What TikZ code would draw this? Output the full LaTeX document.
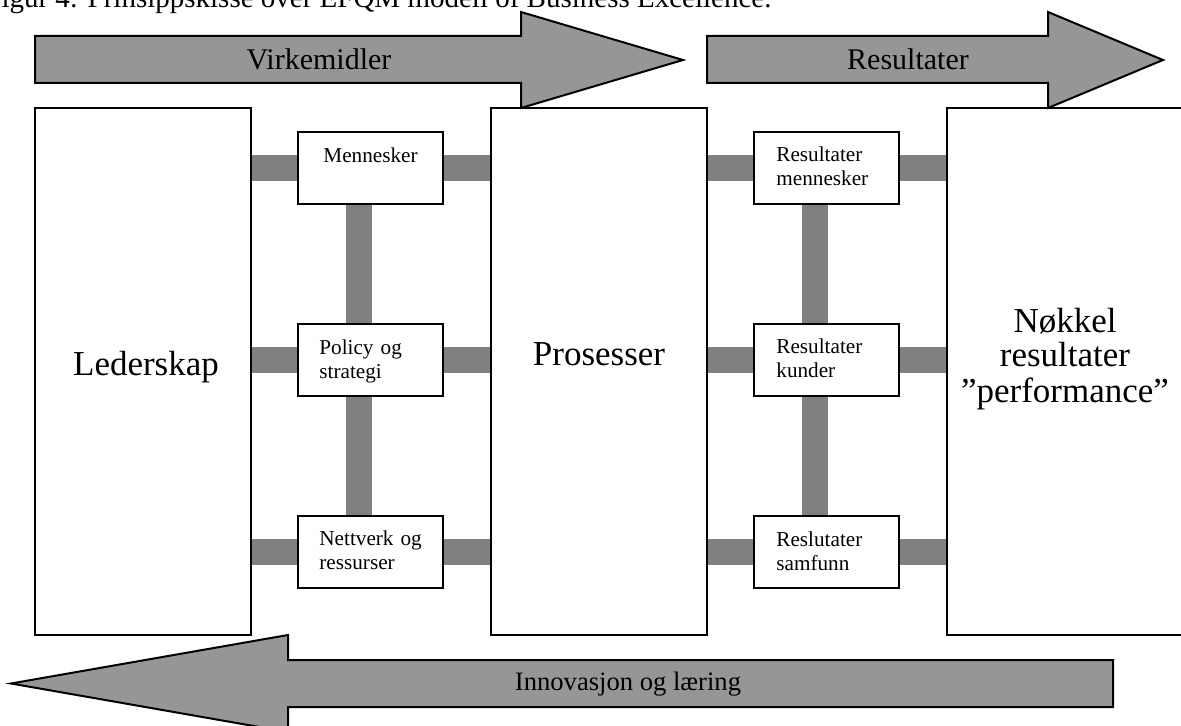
\documentclass[tikz,border=0pt]{standalone}
\usepackage{fontspec}
\setmainfont{Liberation Serif}
\definecolor{arrowgray}{RGB}{150,150,150}
\definecolor{bargray}{RGB}{128,128,128}
\begin{document}
\begin{tikzpicture}[x=0.5pt,y=-0.5pt,
  bigbox/.style={draw, line width=1pt, fill=white, inner sep=0pt, outer sep=0pt,
    minimum width=108pt, minimum height=263.5pt},
  smallbox/.style={draw, line width=1pt, fill=white, inner sep=0pt, outer sep=0pt,
    minimum width=72.5pt, minimum height=36pt},
  bar/.style={draw=bargray, line width=13pt},
  flow/.style={draw, line width=1pt, fill=arrowgray, line join=miter},
  flowtext/.style={inner sep=0pt, anchor=base, font=\fontsize{15}{18}\selectfont},
  bigtext/.style={inner sep=0pt, anchor=base, align=center,
    font=\fontsize{17.5}{17.5}\selectfont},
  boxtext/.style={inner sep=0pt, anchor=base west, text width=60pt, align=left,
    font=\fontsize{10.6}{12}\selectfont},
]
\useasboundingbox (0,0) rectangle (1181,726);
\clip (0,0) rectangle (1181,726);

% caption line, partly cut by the page edge
\node[inner sep=0pt, anchor=base west, font=\fontsize{14.5}{17}\selectfont] (cap) at (-15,8)
  {Figur 4: Prinsippskisse over EFQM modell of Business Excellence.};

% main columns
\node[bigbox] (lead) at (143,371.5) {};
\node[bigbox] (pro) at (599,371.5) {};
\node[bigbox, minimum width=121.5pt] (key) at (1068.5,371.5) {};

% enabler and result boxes
\node[smallbox] (men) at (370.5,168) {};
\node[smallbox] (pol) at (370.5,360) {};
\node[smallbox] (net) at (370.5,552) {};
\node[smallbox] (rme) at (826.5,168) {};
\node[smallbox] (rku) at (826.5,360) {};
\node[smallbox] (rsa) at (826.5,552) {};

% grey links between the boxes
\foreach \b in {men,pol,net}{
  \draw[bar] (\b.west) -- (\b.west -| lead.east);
  \draw[bar] (\b.east) -- (\b.east -| pro.west);
}
\foreach \b in {rme,rku,rsa}{
  \draw[bar] (\b.west) -- (\b.west -| pro.east);
  \draw[bar] (\b.east) -- (\b.east -| key.west);
}
\draw[bar] ([xshift=-5.75pt]men.south) -- ([xshift=-5.75pt]pol.north);
\draw[bar] ([xshift=-5.75pt]pol.south) -- ([xshift=-5.75pt]net.north);
\draw[bar] ([xshift=-5.75pt]rme.south) -- ([xshift=-5.75pt]rku.north);
\draw[bar] ([xshift=-5.75pt]rku.south) -- ([xshift=-5.75pt]rsa.north);

% box outlines redrawn on top of the links
\node[bigbox] at (lead) {};
\node[bigbox] at (pro) {};
\node[bigbox, minimum width=121.5pt] at (key) {};
\foreach \b in {men,pol,net,rme,rku,rsa}{
  \node[smallbox] at (\b) {};
}

% box texts
\node[inner sep=0pt, anchor=base, font=\fontsize{10.6}{12}\selectfont] (men-t) at (370.5,163) {Mennesker};
\node[boxtext] (pol-t) at (319,355) {Policy og\\strategi};
\node[boxtext] (net-t) at (319,545) {Nettverk og\\ressurser};
\node[boxtext] (rme-t) at (776,162) {Resultater\\mennesker};
\node[boxtext] (rku-t) at (776,354) {Resultater\\kunder};
\node[boxtext] (rsa-t) at (776,546) {Reslutater\\samfunn};

\node[bigtext] (lead-t) at (146,376) {Lederskap};
\node[bigtext] (pro-t) at (599,366) {Prosesser};
\node[bigtext] (key-t) at (1065,402) {Nøkkel\\resultater\\”performance”};

% broad flow arrows
\draw[flow] (35,36) -- (521,36) -- (521,12) -- (683,60) -- (521,108) -- (521,83) -- (35,83) -- cycle;
\draw[flow] (707,36) -- (1048,36) -- (1048,12) -- (1163,60) -- (1048,108) -- (1048,83) -- (707,83) -- cycle;
\draw[flow] (1113,660) -- (288,660) -- (288,635) -- (11,683.5) -- (288,732) -- (288,707) -- (1113,707) -- cycle;

\node[flowtext] (virk) at (319,70) {Virkemidler};
\node[flowtext] (res) at (908,70) {Resultater};
\node[flowtext, font=\fontsize{13.3}{16}\selectfont] (inn) at (628,690) {Innovasjon og læring};
\end{tikzpicture}
\end{document}
